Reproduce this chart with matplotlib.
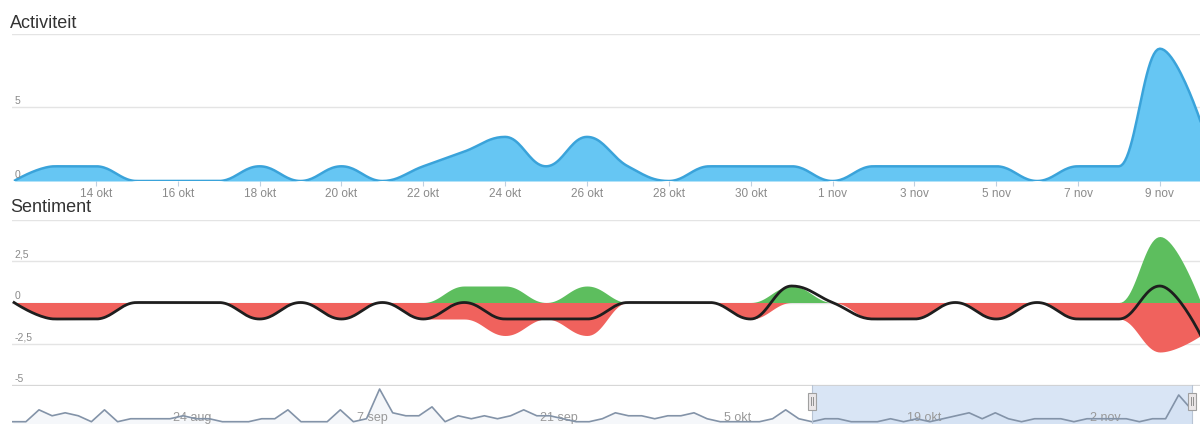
import numpy as np
import pandas as pd
import matplotlib
matplotlib.use('Agg')
import matplotlib.pyplot as plt
import matplotlib.dates as mdates
import matplotlib.transforms as mtransforms
from matplotlib.patches import Rectangle

plt.rcParams['font.family'] = ['Liberation Sans', 'DejaVu Sans']

# ====================== data ======================
# daily values, 12 okt - 10 nov
start = '2013-10-12'
activiteit = [0, 1, 1, 0, 0, 0, 1, 0, 1, 0,
              1, 2, 3, 1, 3, 1, 0, 1, 1, 1,
              0, 1, 1, 1, 1, 0, 1, 1, 9, 4]
positief = [0, 0, 0, 0, 0, 0, 0, 0, 0, 0,
             0, 1, 1, 0, 1, 0, 0, 0, 0, 1,
             0, 0, 0, 0, 0, 0, 0, 0, 4, 0]
negatief = [0, -1, -1, 0, 0, 0, -1, 0, -1, 0,
            -1, -1, -2, -1, -2, 0, 0, 0, -1, 0,
            0, -1, -1, 0, -1, 0, -1, -1, -3, -2]
netto = [0, -1, -1, 0, 0, 0, -1, 0, -1, 0,
         -1, 0, -1, -1, -1, 0, 0, 0, -1, 1,
         0, -1, -1, 0, -1, 0, -1, -1, 1, -2]

# navigator: activity before the selected period, 12 aug - 11 okt
nav_start = '2013-08-12'
nav_voor = [0, 0, 4, 2, 3, 2, 0, 4, 0, 1, 1, 1,
            1, 2, 1, 1, 0, 0, 0, 1, 1, 4, 0, 0, 0, 4,
            0, 1, 11, 3, 2, 2, 5, 0, 2, 1, 2, 1, 2, 4,
            2, 2, 1, 0, 0, 1, 3, 2, 2, 1, 2, 2, 3, 1,
            0, 0, 0, 0, 1, 4, 1]

act_ticks = ['2013-10-14', '2013-10-16', '2013-10-18', '2013-10-20', '2013-10-22',
             '2013-10-24', '2013-10-26', '2013-10-28', '2013-10-30', '2013-11-01',
             '2013-11-03', '2013-11-05', '2013-11-07', '2013-11-09']
nav_ticks = ['2013-08-24', '2013-09-07', '2013-09-21', '2013-10-05',
             '2013-10-19', '2013-11-02']
act_yticks = [0, 5]
sent_yticks = [2.5, 0, -2.5, -5]
sent_ylabels = ['2,5', '0', '-2,5', '-5']
MAANDEN = {8: 'aug', 9: 'sep', 10: 'okt', 11: 'nov'}

GRID = '#E4E4E4'
LABEL = '#8A8A8A'


# ====================== highcharts-like spline ======================
def hc_spline(x, y, steps=24, s=1.5):
    x = np.asarray(x, float)
    y = np.asarray(y, float)
    n = len(x)
    lc = np.column_stack([x, y])
    rc = lc.copy()
    for i in range(1, n - 1):
        lx = (s * x[i] + x[i - 1]) / (s + 1)
        ly = (s * y[i] + y[i - 1]) / (s + 1)
        rx = (s * x[i] + x[i + 1]) / (s + 1)
        ry = (s * y[i] + y[i + 1]) / (s + 1)
        corr = (ry - ly) * (rx - x[i]) / (rx - lx) + y[i] - ry
        ly += corr
        ry += corr
        if ly > y[i - 1] and ly > y[i]:
            ly = max(y[i - 1], y[i]); ry = 2 * y[i] - ly
        elif ly < y[i - 1] and ly < y[i]:
            ly = min(y[i - 1], y[i]); ry = 2 * y[i] - ly
        if ry > y[i + 1] and ry > y[i]:
            ry = max(y[i + 1], y[i]); ly = 2 * y[i] - ry
        elif ry < y[i + 1] and ry < y[i]:
            ry = min(y[i + 1], y[i]); ly = 2 * y[i] - ry
        lc[i] = lx, ly
        rc[i] = rx, ry
    t = np.linspace(0, 1, steps)[:, None]
    pts = [np.array([[x[0], y[0]]])]
    for i in range(1, n):
        p0 = np.array([x[i - 1], y[i - 1]])
        p3 = np.array([x[i], y[i]])
        seg = ((1 - t) ** 3 * p0 + 3 * (1 - t) ** 2 * t * rc[i - 1]
               + 3 * (1 - t) * t ** 2 * lc[i] + t ** 3 * p3)
        pts.append(seg[1:])
    pts = np.vstack(pts)
    return pts[:, 0], pts[:, 1]


def dutch(d):
    return f'{d.day} {MAANDEN[d.month]}'


dates = pd.date_range(start, periods=len(activiteit), freq='D')
xd = mdates.date2num(dates.to_pydatetime())
nav_dates = pd.date_range(nav_start, periods=len(nav_voor) + len(activiteit), freq='D')
xn = mdates.date2num(nav_dates.to_pydatetime())
nav_vals = nav_voor + activiteit

x_left = xd[0] - 0.05
x_right = xd[0] + 28.98

# ====================== figure ======================
W, H = 1200, 424
fig = plt.figure(figsize=(W / 100, H / 100), dpi=100)


def axes_px(top, bottom):
    return fig.add_axes([12 / W, 1 - bottom / H, 1188 / W, (bottom - top) / H])


def clean(ax):
    for sp in ax.spines.values():
        sp.set_visible(False)
    ax.set_yticks([])


# ---------------------- Activiteit ----------------------
ax1 = axes_px(34, 181)
clean(ax1)
ax1.set_xlim(x_left, x_right)
ax1.set_ylim(0, 10)
for v in [5, 10]:
    ax1.axhline(v, color=GRID, lw=1, zorder=0)
sx, sy = hc_spline(xd, activiteit)
ax1.fill_between(sx, 0, sy, color='#66C6F3', lw=0, zorder=2)
ax1.plot(sx, sy, color='#3AA3DA', lw=1.8, zorder=3, solid_capstyle='butt')
tick_x = mdates.date2num(pd.to_datetime(act_ticks).to_pydatetime())
ax1.set_xticks(tick_x)
ax1.set_xticklabels([dutch(d) for d in pd.to_datetime(act_ticks)])
ax1.tick_params(axis='x', length=3.6, width=0.8, color='#C0D0E0',
                labelsize=8.5, labelcolor=LABEL, pad=1.5)
for v in act_yticks:
    ax1.annotate(str(v), (0, v), xycoords=('axes fraction', 'data'),
                 xytext=(2, 1), textcoords='offset points', fontsize=7.5,
                 color=LABEL, ha='left', va='bottom')
fig.text(10 / W, 1 - 24 / H, 'Activiteit', fontsize=13, color='#333333', va='center')

# ---------------------- Sentiment ----------------------
ax2 = axes_px(220, 385)
clean(ax2)
ax2.set_xlim(x_left, x_right)
ax2.set_ylim(-5, 5)
ax2.set_xticks([])
for v in [5, 2.5, 0, -2.5, -5]:
    ax2.axhline(v, color=GRID, lw=1, zorder=0)
px, py = hc_spline(xd, positief)
nx, ny = hc_spline(xd, negatief)
tx, ty = hc_spline(xd, netto)
ax2.fill_between(px, 0, py, color='#5DBE5E', lw=0, zorder=2)
ax2.fill_between(nx, 0, ny, color='#F0625D', lw=0, zorder=2)
ax2.plot(tx, ty, color='#1E1E1E', lw=2, zorder=4)
for v, lab in zip(sent_yticks, sent_ylabels):
    ax2.annotate(lab, (0, v), xycoords=('axes fraction', 'data'),
                 xytext=(2, 1), textcoords='offset points', fontsize=7.5,
                 color=LABEL, ha='left', va='bottom')
fig.text(10 / W, 1 - 208 / H, 'Sentiment', fontsize=13, color='#333333', va='center')

# ---------------------- navigator ----------------------
ax3 = axes_px(385, 424)
clean(ax3)
nav_px_day = 13.1
t0 = mdates.date2num(pd.Timestamp(nav_ticks[0]).to_pydatetime())
ax3.set_xlim(t0 + (12 - 170) / nav_px_day, t0 + (1200 - 170) / nav_px_day)
ax3.set_ylim(-0.77, 12.36)
ax3.set_xticks([])
ax3.fill_between(xn, -1, nav_vals, color='#4572A7', alpha=0.05, lw=0, zorder=1)
ax3.axhline(12.36, color='#CFCFCF', lw=1.2, zorder=5)

trans = mtransforms.blended_transform_factory(ax3.transData, ax3.transAxes)
for d in pd.to_datetime(nav_ticks):
    xv = mdates.date2num(d.to_pydatetime())
    ax3.annotate(dutch(d), (xv, 0.15), xycoords=trans, xytext=(2.5, 0),
                 textcoords='offset points', fontsize=9, color='#999999',
                 ha='left', va='center', zorder=3)

m0, m1 = xd[0], xd[-1]
ax3.add_patch(Rectangle((m0, 0), m1 - m0, 1, transform=trans,
                        facecolor='#C2D6F0', alpha=0.62, lw=0, zorder=2))
ax3.plot(xn, nav_vals, color='#8393A8', lw=1.2, zorder=4)
ax3.plot([m0, m0], [0, 1], transform=trans, color='#B8C4D4', lw=0.8, zorder=5)
ax3.plot([m1, m1], [0, 1], transform=trans, color='#B8C4D4', lw=0.8, zorder=5)
hw = 8 / nav_px_day
for m in [m0, m1]:
    ax3.add_patch(Rectangle((m - hw / 2, 0.36), hw, 0.44, transform=trans,
                            facecolor='#EBE7E8', edgecolor='#A0A0A0', lw=0.8, zorder=6))
    for dx in [-0.12, 0.12]:
        ax3.plot([m + dx * hw, m + dx * hw], [0.48, 0.68], transform=trans,
                 color='#909090', lw=0.7, zorder=7)

fig.savefig('out.png', dpi=100)
